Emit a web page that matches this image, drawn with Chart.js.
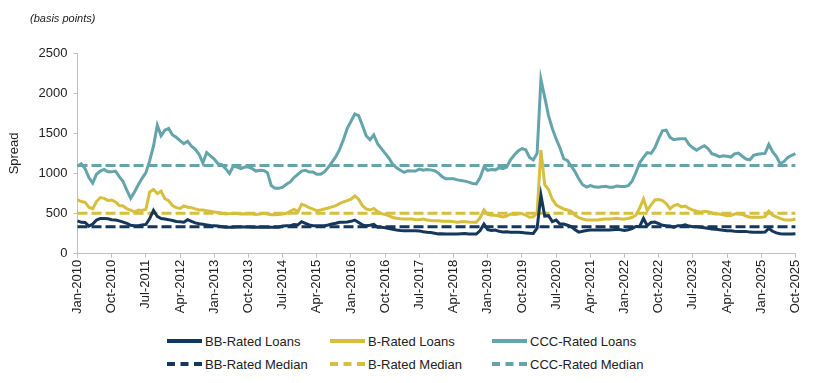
<!DOCTYPE html>
<html>
<head>
<meta charset="utf-8">
<script src="https://cdn.jsdelivr.net/npm/chart.js@4.4.1/dist/chart.umd.min.js"></script>
<style>
  body { margin: 0; background: #fff; font-family: "Liberation Sans", Arial, sans-serif; }
  #wrap { position: relative; width: 813px; height: 383px; }
  #units { position: absolute; left: 30px; top: 12px; font-size: 11px; font-style: italic; color: #222; }
  #chartBox { position: absolute; left: 0; top: 0; width: 813px; height: 316px; }
  #legend { position: absolute; left: 167px; top: 332px; display: grid;
            grid-template-columns: 163px 162px 200px; row-gap: 5px; font-size: 13px; color: #222; }
  .item { display: flex; align-items: center; height: 18px; }
  .swatch { width: 35px; height: 0; margin-right: 3px; }
</style>
</head>
<body>
<div id="wrap">
  <div id="chartBox"><canvas id="chart"></canvas></div>
  <div id="units">(basis points)</div>
  <div id="legend"></div>
</div>
<script>
// monthly observations, Jan-2010 .. Oct-2025
const monthNames = ['Jan','Feb','Mar','Apr','May','Jun','Jul','Aug','Sep','Oct','Nov','Dec'];
const firstYear = 2010;
const monthCount = 190;
const tickEvery = 9; // Jan-2010, Oct-2010, Jul-2011 ...

const bbLoans = [
  410,392,390,345,370,420,440,440,435,425,420,410,395,380,355,350,350,358,365,440,
  540,465,440,433,425,415,402,398,392,425,405,385,375,368,360,352,350,345,338,330,
  330,330,335,337,335,333,330,330,333,329,329,329,329,330,345,350,350,365,360,400,
  380,360,350,350,350,350,358,370,380,392,392,395,404,420,390,360,350,355,365,330,
  329,325,315,305,296,290,287,287,287,287,285,275,267,265,256,248,250,246,246,246,
  246,250,252,246,246,246,290,371,300,290,296,280,270,275,267,267,267,265,260,256,
  254,320,730,470,475,400,420,371,371,355,340,300,270,280,290,296,296,296,296,296,
  296,300,305,300,290,300,315,340,340,440,350,390,395,375,355,350,345,330,350,350,
  360,345,337,337,330,325,318,308,305,300,292,287,287,282,279,279,279,270,267,267,
  267,270,315,280,260,250,246,246,246,250
];
const bLoans = [
  670,650,640,580,560,650,700,690,665,670,645,600,595,560,545,520,545,540,555,770,
  800,750,780,685,660,600,575,565,595,580,575,560,545,545,535,530,520,515,505,495,
  500,505,500,495,498,496,495,490,495,504,495,487,487,490,495,505,530,555,520,615,
  600,575,555,537,545,558,570,585,600,625,645,662,680,720,680,600,560,545,565,525,
  500,490,472,452,442,436,433,433,433,425,425,433,421,415,412,412,404,404,404,400,
  392,400,400,395,392,392,450,546,490,480,480,470,460,470,496,490,495,500,480,455,
  460,510,1290,860,800,680,610,580,558,545,530,480,450,433,421,421,421,421,430,433,
  433,437,443,433,433,440,455,480,570,683,540,610,670,675,662,625,560,600,615,585,
  595,565,545,530,517,530,525,510,496,496,485,475,478,495,496,490,470,455,454,454,
  454,462,530,480,460,440,425,421,421,433
];
const cccLoans = [
  1090,1120,1060,950,880,990,1030,1050,1020,1020,1030,960,900,790,690,770,860,940,1010,1160,
  1340,1600,1470,1540,1560,1480,1450,1410,1370,1400,1340,1300,1240,1130,1260,1220,1180,1120,1110,1060,
  1000,1090,1080,1060,1080,1080,1060,1030,1040,1037,1010,850,815,815,830,865,895,950,990,1030,
  1040,1017,1017,990,990,1020,1075,1142,1210,1300,1420,1560,1650,1740,1720,1600,1470,1420,1480,1370,
  1310,1250,1190,1115,1070,1040,1015,1035,1030,1030,1055,1040,1050,1045,1035,1005,960,933,933,933,
  920,912,905,892,875,871,950,1079,1040,1050,1045,1070,1060,1080,1170,1230,1280,1310,1295,1200,
  1170,1250,2170,1950,1720,1560,1430,1320,1183,1160,1090,1020,930,860,830,850,835,830,835,840,
  830,830,845,837,837,848,905,1010,1130,1200,1260,1250,1320,1433,1530,1540,1450,1420,1430,1433,
  1433,1360,1320,1290,1320,1345,1310,1246,1230,1210,1220,1215,1205,1245,1254,1215,1180,1170,1225,1240,
  1246,1250,1360,1270,1210,1121,1150,1200,1225,1246
];
const bbMedian = 337;
const bMedian = 505;
const cccMedian = 1100;

const yTicks = [0, 500, 1000, 1500, 2000, 2500];

const colors = { bb: '#15375c', b: '#d6bf3e', ccc: '#64a4ab' };
const axisColor = '#c0c0c0';
const font = "'Liberation Sans', Arial, sans-serif";

const categories = [];
for (let i = 0; i < monthCount; i++) {
    categories.push(monthNames[i % 12] + '-' + (firstYear + Math.floor(i / 12)));
}
const firstCat = categories[0];
const lastCat = categories[categories.length - 1];

function loanSet(label, data, color) {
    return { label, data, borderColor: color, backgroundColor: color, borderWidth: 3,
             pointRadius: 0, tension: 0, fill: false };
}
function medianSet(label, value, color) {
    return { label, data: [{ x: firstCat, y: value }, { x: lastCat, y: value }],
             borderColor: color, backgroundColor: color, borderWidth: 3, borderDash: [10, 4],
             pointRadius: 0, tension: 0, fill: false };
}

const datasets = [
    loanSet('BB-Rated Loans', bbLoans, colors.bb),
    loanSet('B-Rated Loans', bLoans, colors.b),
    loanSet('CCC-Rated Loans', cccLoans, colors.ccc),
    medianSet('BB-Rated Median', bbMedian, colors.bb),
    medianSet('B-Rated Median', bMedian, colors.b),
    medianSet('CCC-Rated Median', cccMedian, colors.ccc)
];

new Chart(document.getElementById('chart').getContext('2d'), {
    type: 'line',
    data: { labels: categories, datasets: datasets },
    options: {
        responsive: true,
        maintainAspectRatio: false,
        animation: false,
        layout: { padding: { left: 7, right: 12, top: 53, bottom: 0 } },
        plugins: { legend: { display: false }, tooltip: { enabled: false } },
        scales: {
            x: {
                type: 'category',
                offset: false,
                afterBuildTicks: axis => { axis.ticks = axis.ticks.filter(t => t.value % tickEvery === 0); },
                grid: { drawOnChartArea: false, drawTicks: true, tickLength: 4, color: axisColor },
                border: { display: true, color: axisColor, width: 1 },
                ticks: { autoSkip: false, maxRotation: 90, minRotation: 90, color: '#222',
                         font: { family: font, size: 13 }, padding: 2 }
            },
            y: {
                min: 0, max: 2500,
                afterBuildTicks: axis => { axis.ticks = yTicks.map(v => ({ value: v })); },
                grid: { drawOnChartArea: false, drawTicks: true, tickLength: 4, color: axisColor },
                border: { display: true, color: axisColor, width: 1 },
                ticks: { color: '#222', font: { family: font, size: 13 }, padding: 6,
                         callback: v => String(v) },
                title: { display: true, text: 'Spread', color: '#222', font: { family: font, size: 13 }, padding: { top: 0, bottom: 10 } }
            }
        }
    }
});

// legend: two rows of three, loans then medians
const legend = document.getElementById('legend');
datasets.forEach(ds => {
    const item = document.createElement('div');
    item.className = 'item';
    const sw = document.createElement('span');
    sw.className = 'swatch';
    sw.style.borderTop = '4px ' + (ds.borderDash ? 'dashed ' : 'solid ') + ds.borderColor;
    item.appendChild(sw);
    item.appendChild(document.createTextNode(ds.label));
    legend.appendChild(item);
});
</script>
</body>
</html>
